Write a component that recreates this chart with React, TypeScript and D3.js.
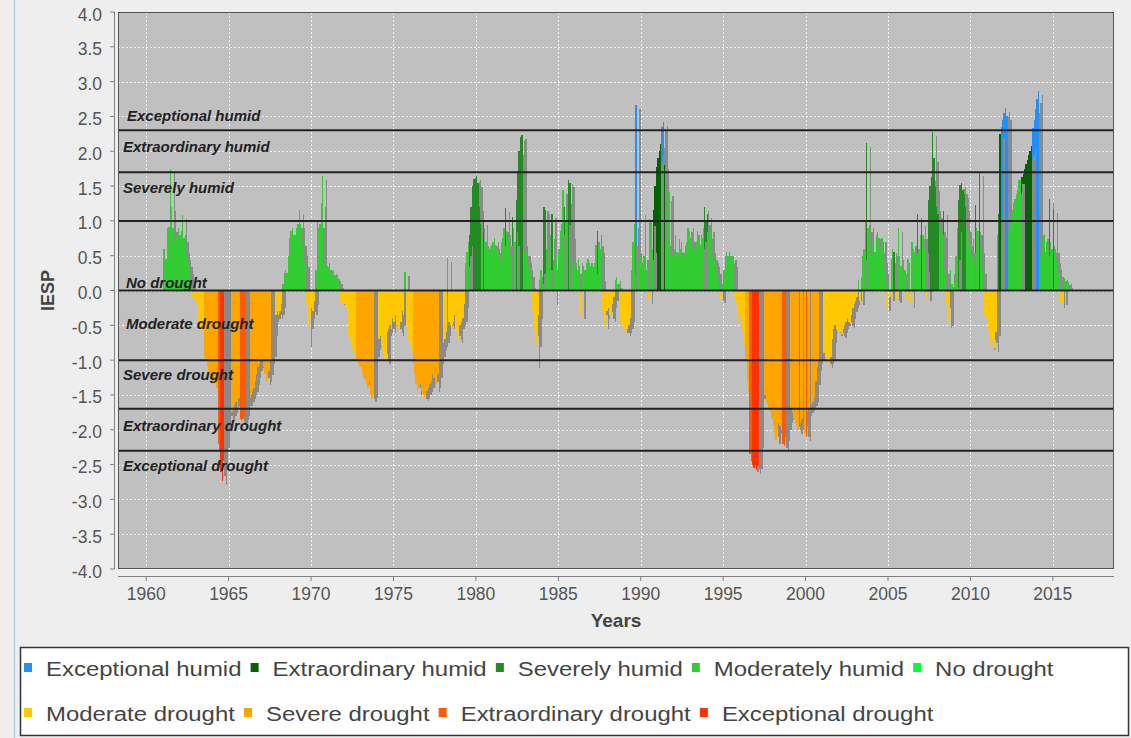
import React, { useMemo } from "react";
import * as d3 from "d3";

// ---------- DATA ----------
const FIRST_YEAR = 1961;

// Monthly IESP values, one row per year (Jan..Dec)
const iespByYear: number[][] = [
  [0.6, 0.6, 0.45, 0.9, 0.91, 1.75, 1.2, 0.9, 0.7, 0.65, 0.8, 0.9], // 1961
  [0.8, 0.85, 1.08, 0.75, 0.6, 0.5, 0.4, 0.3, 0.15, -0.1, -0.15, -0.1], // 1962
  [-0.2, -0.35, -0.45, -0.55, -0.6, -0.66, -0.95, -1.0, -1.1, -1.15, -1.2, -1.25], // 1963
  [-1.3, -1.33, -1.25, -1.4, -2.2, -2.3, -2.6, -2.73, -2.45, -2.2, -1.9, -1.75], // 1964
  [-1.8, -1.83, -1.75, -1.7, -1.65, -1.6, -1.7, -1.55, -1.85, -1.87, -1.85, -1.8], // 1965
  [-1.75, -1.6, -1.6, -1.55, -1.5, -1.45, -1.4, -1.3, -1.2, -1.1, -1.05, -1.0], // 1966
  [-1.0, -1.1, -1.2, -1.3, -1.25, -1.15, -1.0, -0.9, -0.6, -0.4, -0.35, -0.3], // 1967
  [-0.35, -0.3, -0.2, 0.1, 0.25, 0.3, 0.25, 0.5, 0.75, 0.85, 0.9, 0.8], // 1968
  [0.8, 0.9, 0.95, 1.15, 0.95, 0.7, 0.55, 0.4, -0.2, -0.75, -0.5, -0.35], // 1969
  [-0.25, -0.3, -0.15, 0.3, 1.0, 0.9, 0.95, 1.25, 1.64, 0.4, 0.45, 0.35], // 1970
  [0.33, 0.3, 0.25, 0.3, 0.28, 0.22, 0.2, 0.15, 0.1, -0.15, -0.2, -0.2], // 1971
  [-0.2, -0.25, -0.45, -0.65, -0.7, -0.8, -0.85, -0.9, -0.95, -1.0, -1.05, -1.1], // 1972
  [-1.1, -1.2, -1.25, -1.3, -1.35, -1.4, -1.3, -1.5, -1.55, -1.48, -0.9, -0.8], // 1973
  [-0.75, -0.7, -0.65, -0.8, -0.85, -0.95, -1.0, -0.6, -0.55, -0.5, -0.55, -0.4], // 1974
  [-0.45, -0.35, -0.5, -0.55, -0.6, -0.45, -0.3, -0.35, 0.27, -0.5, -0.7, -0.85], // 1975
  [-0.8, -0.9, -1.05, -1.2, -1.35, -1.45, -1.4, -1.35, -1.45, -1.5, -1.53, -1.5], // 1976
  [-1.45, -1.4, -1.35, -1.3, -1.2, -1.25, -1.4, -1.35, -1.2, -1.0, -0.9, -0.8], // 1977
  [-0.75, -0.7, -0.6, 0.47, -0.45, -0.5, -0.5, -0.45, -0.35, -0.6, -0.65, -0.7], // 1978
  [-0.5, -0.45, -0.4, -0.2, 0.4, 0.55, 0.7, 0.8, 1.2, 1.5, 1.6, 1.62], // 1979
  [1.65, 1.55, 1.2, 0.95, 0.75, 1.0, 0.7, 0.65, 0.7, 0.6, 0.62, 0.65], // 1980
  [0.7, 0.75, 0.65, 0.6, 0.55, 0.45, 0.7, 0.75, 0.9, 1.18, 0.85, 0.7], // 1981
  [0.6, 0.5, 1.05, 0.9, 0.7, 1.3, 1.72, 2.0, 2.2, 2.23, 0.7, 0.55], // 1982
  [0.55, 0.45, 0.35, 0.25, 0.1, -0.3, -0.6, -1.05, -0.75, -0.35, 0.15, 0.3], // 1983
  [0.2, 1.2, 1.15, 0.6, 0.35, 0.5, 0.8, 1.1, -0.15, 0.35, 0.5, 0.3], // 1984
  [0.6, 0.85, 0.96, 1.45, 1.2, 1.0, 1.3, 1.58, 1.55, 0.8, 0.45, 0.35], // 1985
  [0.4, 0.3, 0.45, 0.35, -0.35, 0.3, 0.35, 0.3, 0.4, 0.45, 0.4, 0.35], // 1986
  [0.35, 0.3, 0.4, 0.65, 0.85, 0.7, 0.6, 0.2, -0.3, -0.5, -0.35, -0.3], // 1987
  [-0.25, -0.35, -0.4, -0.2, -0.1, 0.15, 0.2, 0.1, -0.3, -0.45, -0.5, -0.55], // 1988
  [-0.55, -0.6, -0.55, -0.5, -0.4, 0.3, 0.7, 0.95, 2.67, 0.6, 0.45, 0.5], // 1989
  [0.45, 0.35, 0.5, 1.08, 0.3, -0.13, 0.5, 0.98, 0.6, 1.15, 1.5, 1.78], // 1990
  [1.9, 2.0, 2.1, 2.35, 2.42, 1.8, 0.7, 1.35, 1.42, 0.5, 0.6, 0.5], // 1991
  [0.6, 0.8, 0.55, 0.5, 0.6, 0.7, 0.55, 0.5, 0.6, 0.7, 0.9, 0.85], // 1992
  [0.75, 0.6, 0.9, 0.6, 0.7, 0.85, 0.8, 0.65, 0.75, 0.9, 1.2, 1.0], // 1993
  [1.1, 0.8, 0.9, 0.6, 0.5, 0.45, 0.4, 0.3, 0.15, -0.1, -0.12, 0.1], // 1994
  [0.3, 0.5, 0.55, 0.5, 0.55, 0.45, 0.5, 0.4, -0.1, -0.2, -0.3, -0.45], // 1995
  [-0.35, -0.45, -0.6, -0.8, -1.0, -1.3, -1.45, -2.35, -2.45, -2.5, -2.55, -2.5], // 1996
  [-2.58, -2.5, -2.2, -1.5, -1.45, -1.4, -1.5, -1.6, -1.65, -1.7, -1.75, -1.85], // 1997
  [-1.95, -2.05, -2.15, -2.0, -1.9, -1.95, -2.0, -2.2, -2.23, -2.1, -1.95, -1.85], // 1998
  [-1.8, -1.7, -1.75, -1.85, -1.9, -1.95, -2.0, -1.95, -1.9, -1.85, -1.9, -2.05], // 1999
  [-2.1, -1.75, -1.7, -1.68, -1.65, -1.6, -1.55, -1.3, -1.1, -1.0, -0.95, -0.9], // 2000
  [-0.85, -0.9, -0.95, -1.0, -1.05, -1.0, -0.95, -0.7, -0.55, -0.5, -0.55, -0.6], // 2001
  [-0.55, -0.6, -0.62, -0.55, -0.5, -0.45, -0.4, -0.45, -0.48, -0.35, -0.25, -0.2], // 2002
  [-0.15, -0.1, 0.15, -0.15, 0.2, 0.5, 0.6, 1.0, 2.12, 0.9, 0.6, 0.5], // 2003
  [0.7, 0.9, 0.55, 0.8, 0.65, 0.75, 0.6, 0.76, 0.45, 0.3, -0.24, 0.1], // 2004
  [0.14, -0.1, 0.45, 0.6, 0.55, -0.1, -0.12, 0.9, 0.5, 0.35, 0.3, 0.2], // 2005
  [0.3, -0.14, 0.45, 0.4, -0.2, 0.7, 0.6, 0.55, 0.5, 1.1, 0.6, 0.8], // 2006
  [0.98, 0.8, 0.6, 0.33, -0.1, 1.3, 1.5, 1.63, 2.27, 1.9, 1.48, 1.2], // 2007
  [1.1, 0.85, 0.9, 0.81, 1.14, 0.3, -0.2, -0.48, -0.45, 0.29, 0.1, 0.05], // 2008
  [0.1, 0.5, 0.9, 1.3, 1.52, 1.55, 1.45, 1.38, 1.2, 0.9, 0.7, 0.8], // 2009
  [0.6, 0.5, 0.4, 1.23, 0.9, 0.85, 1.7, 0.6, 0.3, -0.1, -0.35, -0.4], // 2010
  [-0.35, -0.6, -0.8, -0.65, -0.7, -0.83, -0.6, 0.8, 1.1, 2.25, 2.35, 2.45], // 2011
  [2.55, 2.62, 2.5, 0.86, 0.95, 1.05, 1.15, 1.25, 1.32, 1.39, 1.45, 1.59], // 2012
  [1.59, 1.63, 1.68, 1.75, 1.82, 1.88, 1.95, 2.0, 2.07, 2.33, 2.45, 2.6], // 2013
  [2.75, 2.87, 0.65, 0.5, 0.75, 0.8, 0.55, 0.7, 0.6, 1.32, 0.7, 0.6], // 2014
  [1.17, 0.6, 0.45, 0.35, 0.25, -0.19, 0.2, -0.15, 0.18, 0.14, 0.15, 0.1], // 2015
];

// Monthly class of each bar (a..i = legend order), one string per year
const classByYear: string[] = [
  "dddddddddddd", "dddddddddfff", "ffffffgggggg", "gggghhiiihhg", "gggggggghhhh",
  "hggggggggggg", "gggggggfffff", "fffddddddddd", "ddddddddffff", "fffddddddddd",
  "dddddddddfff", "fffffffffggg", "ggggggggggff", "ffffffffffff", "ffffffffdfff",
  "ffgggggggggg", "gggggggggfff", "fffdffffffff", "ffffdddccccc", "ccccdcdddddd",
  "dddddddddcdd", "ddcddcccccdd", "dddddfffffdd", "dccddddcfddd", "ddddcdcccddd",
  "ddddfddddddd", "ddddcdddffff", "fffffdddffff", "fffffdddaddd", "dddddfdddbbb",
  "bbbaabdddddd", "dddddddddddd", "ddddddddddcc", "cddddddddffd", "ddddddddffff",
  "ffffggghhiii", "iihggggggggg", "ggggggghhhgg", "ggggggghgggg", "hgggggggggff",
  "ffffffffffff", "ffffffffffff", "ffdfddddcddd", "ddddddddddfd", "dfddcffddddd",
  "dfddfddddcdd", "cdddfccccccc", "cdddcdfffddd", "dddccccccddd", "dddcddcddfff",
  "fffffffdcbaa", "aaaddddddddd", "dbbbbbbbbaaa", "aadddddddcdd", "cddddfdfdddd",
];

const classCodes = ["a", "b", "c", "d", "e", "f", "g", "h", "i"];
const classNames = [
  "Exceptional humid", "Extraordinary humid", "Severely humid", "Moderately humid", "No drought",
  "Moderate drought", "Severe drought", "Extraordinary drought", "Exceptional drought",
];

const thresholdValues = [2.3, 1.7, 1.0, 0, -1.0, -1.7, -2.3];
const thresholdLabels = [
  "Exceptional humid", "Extraordinary humid", "Severely humid", "No drought",
  "Moderate drought", "Severe drought", "Extraordinary drought", "Exceptional drought",
];
const thresholdLabelAnchors = [2.3, 2.3, 1.7, 0, 0, -1.0, -1.7, -2.3];

const yTickValues = [4.0, 3.5, 3.0, 2.5, 2.0, 1.5, 1.0, 0.5, 0.0, -0.5, -1.0, -1.5, -2.0, -2.5, -3.0, -3.5, -4.0];
const xTickYears = [1960, 1965, 1970, 1975, 1980, 1985, 1990, 1995, 2000, 2005, 2010, 2015];

// ---------- STYLE / LAYOUT ----------
const CLASS_COLORS: Record<string, string> = {
  a: "#1e90ff",
  b: "#006400",
  c: "#228b22",
  d: "#32cd32",
  e: "#00ff33",
  f: "#ffc800",
  g: "#ffa500",
  h: "#ff5a00",
  i: "#ff3300",
};
const LABEL_OFFSETS: [number, number][] = [
  [9, -9], [5, 22], [5, 21], [8, -3], [8, 38], [5, 20], [5, 22], [5, 20],
];

const W = 1131;
const H = 738;
const PLOT = { left: 118, right: 1114, top: 12, bottom: 569 };
const SHADOW = 4;
const FONT = "'Liberation Sans', Arial, Helvetica, sans-serif";

function measureText(text: string, font: string): number {
  const canvas = document.createElement("canvas");
  const ctx = canvas.getContext("2d");
  if (!ctx) return text.length * 10;
  ctx.font = font;
  return ctx.measureText(text).width;
}

export default function App() {
  const x = d3.scaleLinear().domain([1958.29, 2018.71]).range([PLOT.left, PLOT.right]);
  const y = d3.scaleLinear().domain([-4, 4]).range([PLOT.bottom, PLOT.top]);

  const months = useMemo(
    () =>
      iespByYear.flatMap((row, yi) =>
        row.map((v, m) => ({ t: FIRST_YEAR + yi + m / 12, v, c: classByYear[yi][m] }))
      ),
    []
  );

  const y0 = y(0);

  const barGroups = classCodes.map((code) => {
    const items = months.filter((d) => d.c === code);
    const shadows = items.map((d, k) => {
      const x0 = x(d.t);
      const x1 = x(d.t + 1 / 12);
      const yv = y(d.v);
      let top: number, bottom: number;
      if (d.v >= 0) {
        top = yv + SHADOW;
        bottom = y0;
      } else {
        top = y0;
        bottom = yv + SHADOW;
      }
      if (bottom <= top) return null;
      return (
        <rect key={"s" + k} x={x0 + SHADOW} y={top} width={x1 - x0} height={bottom - top} fill="#8a8a8a" />
      );
    });
    const bars = items.map((d, k) => {
      const x0 = x(d.t);
      const x1 = x(d.t + 1 / 12);
      const yv = y(d.v);
      const top = Math.min(yv, y0);
      const h = Math.abs(yv - y0);
      return <rect key={"b" + k} x={x0} y={top} width={x1 - x0} height={h} fill={CLASS_COLORS[code]} />;
    });
    return (
      <g key={code}>
        {shadows}
        {bars}
      </g>
    );
  });

  // Legend layout
  const LEGEND_FONT_SIZE = 21;
  const LEGEND_SX = 1.14;
  const legendFont = `${LEGEND_FONT_SIZE}px 'Liberation Sans', Arial, sans-serif`;
  const legendRows = [classNames.slice(0, 5), classNames.slice(5)];
  const legendRowCodes = [classCodes.slice(0, 5), classCodes.slice(5)];
  const rowBaselines = [676, 721];
  const legendItems: React.ReactNode[] = [];
  legendRows.forEach((row, ri) => {
    let cx = 24;
    row.forEach((name, k) => {
      const w = measureText(name, legendFont) * LEGEND_SX;
      const code = legendRowCodes[ri][k];
      legendItems.push(
        <g key={name}>
          <rect x={cx} y={rowBaselines[ri] - 13} width={8} height={9} fill={CLASS_COLORS[code]} />
          <text
            transform={`translate(${cx + 22},${rowBaselines[ri]}) scale(${LEGEND_SX},1)`}
            fontSize={LEGEND_FONT_SIZE}
            fontFamily={FONT}
            fill="#444"
          >
            {name}
          </text>
        </g>
      );
      cx += 22 + w + 9;
    });
  });

  return (
    <svg
      width={W}
      height={H}
      style={{ position: "absolute", left: 0, top: 0, display: "block" }}
      xmlns="http://www.w3.org/2000/svg"
    >
      <rect x={0} y={0} width={W} height={H} fill="#eeeeee" />
      <line x1={14.5} y1={0} x2={14.5} y2={H} stroke="#b4cde6" strokeWidth={1.5} />

      <defs>
        <clipPath id="plotClip">
          <rect x={PLOT.left} y={PLOT.top} width={PLOT.right - PLOT.left} height={PLOT.bottom - PLOT.top} />
        </clipPath>
      </defs>

      {/* plot background */}
      <rect
        x={PLOT.left}
        y={PLOT.top}
        width={PLOT.right - PLOT.left}
        height={PLOT.bottom - PLOT.top}
        fill="#c0c0c0"
      />

      {/* gridlines */}
      <g stroke="#ffffff" strokeWidth={1} strokeDasharray="2,2" opacity={0.85}>
        {yTickValues.map((v) => (
          <line key={"gy" + v} x1={PLOT.left} x2={PLOT.right} y1={Math.round(y(v)) + 0.5} y2={Math.round(y(v)) + 0.5} />
        ))}
        {xTickYears.map((yr) => (
          <line key={"gx" + yr} x1={Math.round(x(yr)) + 0.5} x2={Math.round(x(yr)) + 0.5} y1={PLOT.top} y2={PLOT.bottom} />
        ))}
      </g>

      {/* bars */}
      <g clipPath="url(#plotClip)" shapeRendering="crispEdges">
        {barGroups}
      </g>

      {/* threshold markers */}
      <g stroke="#222" strokeWidth={2}>
        {thresholdValues.map((v) => (
          <line key={"t" + v} x1={PLOT.left} x2={PLOT.right} y1={y(v)} y2={y(v)} />
        ))}
      </g>
      <g fontFamily={FONT} fontStyle="italic" fontWeight="bold" fontSize={15} fill="#222">
        {thresholdLabels.map((lab, k) => (
          <text key={lab + k} x={PLOT.left + LABEL_OFFSETS[k][0]} y={y(thresholdLabelAnchors[k]) + LABEL_OFFSETS[k][1]}>
            {lab}
          </text>
        ))}
      </g>

      {/* plot outline */}
      <rect
        x={PLOT.left + 0.5}
        y={PLOT.top + 0.5}
        width={PLOT.right - PLOT.left - 1}
        height={PLOT.bottom - PLOT.top - 1}
        fill="none"
        stroke="#555"
        strokeWidth={1}
      />

      {/* y axis */}
      <line x1={114.5} x2={114.5} y1={PLOT.top} y2={PLOT.bottom} stroke="#808080" strokeWidth={1} />
      <g fontFamily={FONT} fontSize={17.5} fill="#555" textAnchor="end">
        {yTickValues.map((v) => (
          <g key={"yt" + v}>
            <line x1={110} x2={114.5} y1={y(v)} y2={y(v)} stroke="#808080" strokeWidth={1} />
            <text x={102} y={y(v) + 8.5}>
              {v.toFixed(1)}
            </text>
          </g>
        ))}
      </g>

      {/* x axis */}
      <line x1={PLOT.left} x2={PLOT.right} y1={576.5} y2={576.5} stroke="#808080" strokeWidth={1} />
      <g fontFamily={FONT} fontSize={17.5} fill="#555" textAnchor="middle">
        {xTickYears.map((yr) => (
          <g key={"xt" + yr}>
            <line x1={x(yr)} x2={x(yr)} y1={576.5} y2={581} stroke="#808080" strokeWidth={1} />
            <text x={x(yr)} y={600}>
              {yr}
            </text>
          </g>
        ))}
      </g>

      {/* axis titles */}
      <text
        transform={`translate(54,${y(0)}) rotate(-90)`}
        textAnchor="middle"
        fontFamily={FONT}
        fontWeight="bold"
        fontSize={18}
        fill="#444"
      >
        IESP
      </text>
      <text
        x={(PLOT.left + PLOT.right) / 2}
        y={627}
        textAnchor="middle"
        fontFamily={FONT}
        fontWeight="bold"
        fontSize={19}
        fill="#444"
      >
        Years
      </text>

      {/* legend */}
      <rect x={20.5} y={647.5} width={1108} height={88} fill="#ffffff" stroke="#333" strokeWidth={1.5} />
      {legendItems}
    </svg>
  );
}
